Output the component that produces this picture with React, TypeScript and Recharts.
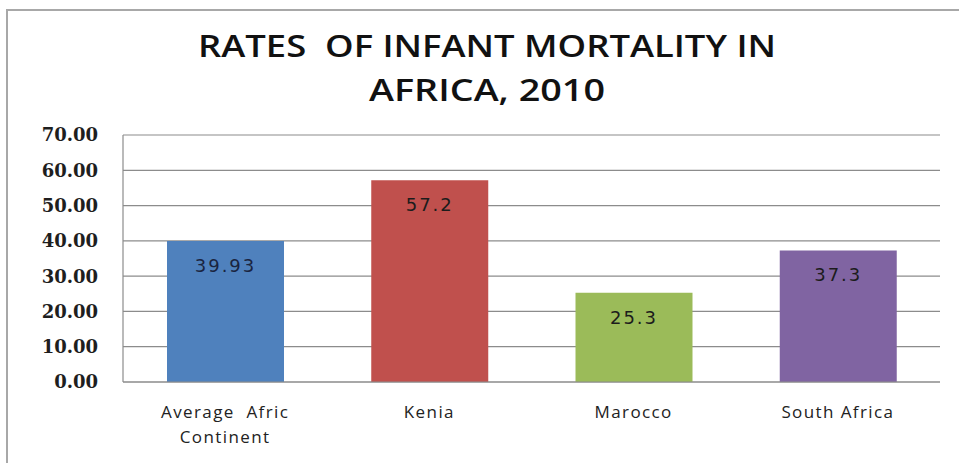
import { BarChart, Bar, XAxis, YAxis, CartesianGrid, Cell, LabelList } from "recharts";

const categories = ["Average  Afric Continent", "Kenia", "Marocco", "South Africa"];
const rates = [39.93, 57.2, 25.3, 37.3];
const rateLabels = ["39.93", "57.2", "25.3", "37.3"];
const barColors = ["#4f81bd", "#c0504d", "#9bbb59", "#8064a2"];
const yTicks = [0, 10, 20, 30, 40, 50, 60, 70];

const data = categories.map((name, i) => ({ name, value: rates[i], label: rateLabels[i] }));

function wrapLabel(text: string, max = 14) {
  const words = text.split(/(?<=\S)\s(?=\S)/);
  const lines: string[] = [];
  let cur = "";
  for (const w of words) {
    const next = cur ? cur + " " + w : w;
    if (next.length > max && cur) {
      lines.push(cur);
      cur = w;
    } else {
      cur = next;
    }
  }
  if (cur) lines.push(cur);
  return lines;
}

function CategoryTick({ x, y, payload }: any) {
  const lines = wrapLabel(payload.value);
  return (
    <text
      x={x}
      y={y + 36}
      textAnchor="middle"
      fill="#222"
      fontFamily="'Open Sans', sans-serif"
      fontSize={17}
      letterSpacing={1.4}
      style={{ whiteSpace: "pre" }}
    >
      {lines.map((line, i) => (
        <tspan key={i} x={x} dy={i === 0 ? 0 : 25}>
          {line}
        </tspan>
      ))}
    </text>
  );
}

function ValueLabel({ x, y, width, index }: any) {
  return (
    <text
      x={x + width / 2}
      y={y + 31}
      textAnchor="middle"
      fill={index === 0 ? "#1a2440" : "#1c1c1c"}
      fontFamily="'DejaVu Sans', sans-serif"
      fontSize={18}
      letterSpacing={2}
    >
      {rateLabels[index]}
    </text>
  );
}

export default function App() {
  return (
    <div style={{ position: "absolute", left: 0, top: 0, width: 959, height: 463, background: "#fff" }}>
      <div
        style={{
          position: "absolute",
          left: 6,
          top: 9,
          right: -4,
          bottom: -4,
          borderLeft: "2px solid #a8a8a8",
          borderTop: "2px solid #a8a8a8",
        }}
      />
      <svg width={959} height={120} style={{ position: "absolute", left: 0, top: 0 }}>
        <text
          x={487}
          y={57}
          textAnchor="middle"
          fontFamily="'Open Sans', sans-serif"
          fontWeight={600}
          fontSize={31}
          fill="#111"
          textLength={578}
          lengthAdjust="spacingAndGlyphs"
          style={{ whiteSpace: "pre" }}
        >
          RATES  OF INFANT MORTALITY IN
        </text>
        <text
          x={487}
          y={101}
          textAnchor="middle"
          fontFamily="'Open Sans', sans-serif"
          fontWeight={600}
          fontSize={31}
          fill="#111"
          textLength={236}
          lengthAdjust="spacingAndGlyphs"
        >
          AFRICA, 2010
        </text>
      </svg>
      <div style={{ position: "absolute", left: 0, top: 0 }}>
        <BarChart
          width={959}
          height={463}
          data={data}
          margin={{ top: 135, right: 19, bottom: 0, left: 0 }}
        >
          <CartesianGrid vertical={false} stroke="#8c8c8c" strokeWidth={1.2} />
          <XAxis
            dataKey="name"
            axisLine={{ stroke: "#8c8c8c", strokeWidth: 1.2 }}
            tickLine={false}
            tickSize={0}
            tickMargin={0}
            interval={0}
            tick={<CategoryTick />}
            height={81}
          />
          <YAxis
            width={123}
            domain={[0, 70]}
            ticks={yTicks}
            interval={0}
            allowDataOverflow
            axisLine={{ stroke: "#8c8c8c", strokeWidth: 1.2 }}
            tickLine={false}
            tickSize={0}
            tickMargin={25}
            tickFormatter={(v: number) => v.toFixed(2)}
            tick={{
              fill: "#1e1e1e",
              fontFamily: "'DejaVu Serif', serif",
              fontWeight: "bold",
              fontSize: 18,
            }}
          />
          <Bar dataKey="value" barSize={117} isAnimationActive={false}>
            {data.map((d, i) => (
              <Cell key={d.name} fill={barColors[i]} />
            ))}
            <LabelList dataKey="label" content={<ValueLabel />} />
          </Bar>
        </BarChart>
      </div>
    </div>
  );
}
